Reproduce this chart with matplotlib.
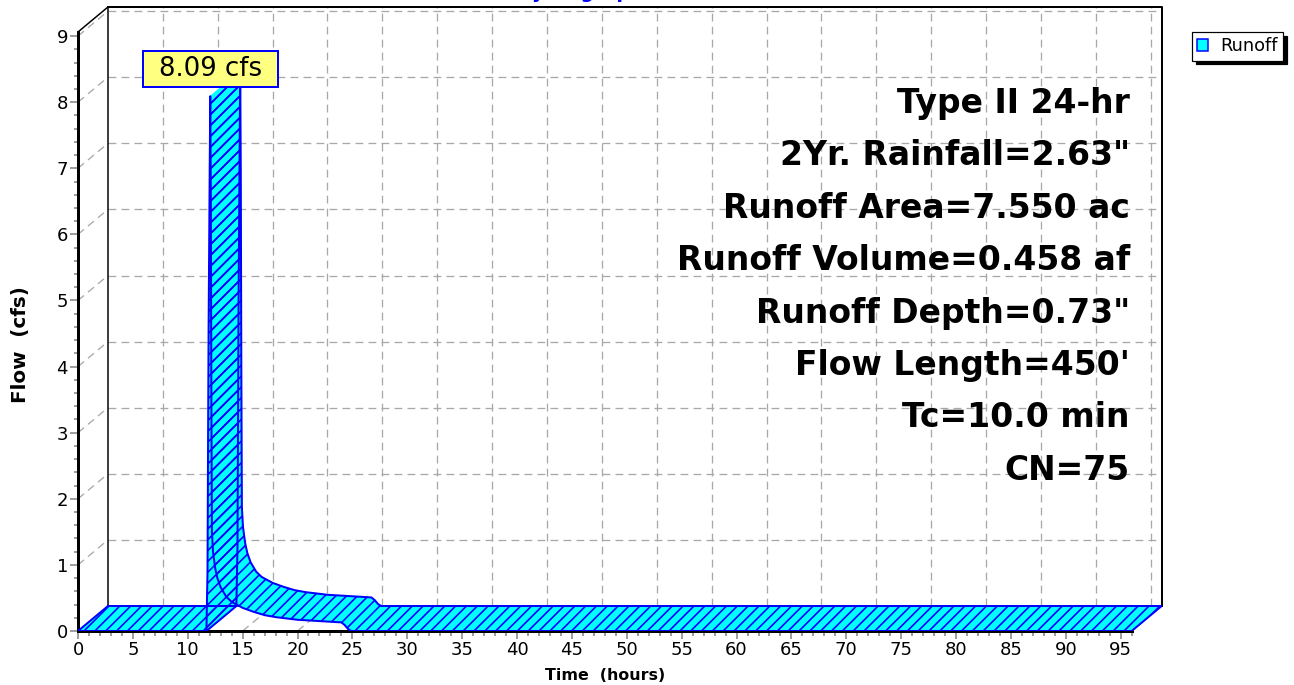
import numpy as np
import matplotlib
matplotlib.use("Agg")
import matplotlib.pyplot as plt
from matplotlib.collections import PolyCollection
from matplotlib.patches import Patch
from matplotlib.path import Path
from matplotlib.ticker import FixedLocator

DPI = 130
FIG_W, FIG_H = 1294, 685

# runoff hydrograph
TIME_HR = [0.0, 11.7, 11.8, 11.9, 12.0, 12.05, 12.1, 12.15, 12.2, 12.3, 12.5, 12.7,
           13.0, 13.5, 14.0, 15.0, 16.0, 17.0, 18.0, 20.0, 22.0, 24.0, 24.3,
           24.6, 24.9, 96.0]
FLOW_CFS = [0.0, 0.0, 0.9, 4.6, 7.0, 8.09, 6.6, 3.6, 1.5, 1.2, 0.95, 0.8,
            0.66, 0.52, 0.44, 0.35, 0.29, 0.24, 0.21, 0.17, 0.15, 0.13, 0.09,
            0.03, 0.0, 0.0]

STORM_LINES = [
    "Type II 24-hr",
    '2Yr. Rainfall=2.63"',
    "Runoff Area=7.550 ac",
    "Runoff Volume=0.458 af",
    'Runoff Depth=0.73"',
    "Flow Length=450'",
    "Tc=10.0 min",
    "CN=75",
]
X_TICKS = list(range(0, 96, 5))
Y_TICKS = list(range(0, 10))

# pseudo-3d depth of the ribbon, in data units
DEPTH_X = 2.73
DEPTH_Y = 0.378
T_END = 96.0
Y_TOP = 9.44
PX_PER_HR = 10.976

CYAN = "#00FFFF"
BLUE = "#0000FF"
GRID = "#A8A8A8"
TICK = "#808080"

plt.rcParams["font.family"] = ["DejaVu Sans"]
plt.rcParams["hatch.linewidth"] = 0.9


def px(v):
    return v * 72 / DPI


def label_box(x0, y0, width, height, mutation_size):
    padx, pady = 0.62 * mutation_size, 0.2 * mutation_size
    x0, y0 = x0 - padx, y0 - pady
    x1, y1 = x0 + width + 2 * padx, y0 + height + 2 * pady
    return Path([(x0, y0), (x1, y0), (x1, y1), (x0, y1), (x0, y0)], closed=True)


def main():
    fig = plt.figure(figsize=(FIG_W / DPI, FIG_H / DPI), dpi=DPI)
    left, bottom, top = 78, 631, 7
    right = left + (T_END + DEPTH_X) * PX_PER_HR
    ax = fig.add_axes([left / FIG_W, (FIG_H - bottom) / FIG_H,
                       (right - left) / FIG_W, (bottom - top) / FIG_H])
    ax.set_xlim(0, T_END + DEPTH_X)
    ax.set_ylim(0, Y_TOP)

    for side in ["top", "right"]:
        ax.spines[side].set_visible(False)
    ax.spines["left"].set_bounds(0, Y_TOP - DEPTH_Y)
    ax.spines["bottom"].set_bounds(0, T_END)
    for side in ["left", "bottom"]:
        ax.spines[side].set_linewidth(px(3))
        ax.spines[side].set_zorder(2)

    ax.xaxis.set_major_locator(FixedLocator(X_TICKS))
    ax.xaxis.set_minor_locator(FixedLocator(np.arange(0, T_END + 1, 1)))
    ax.yaxis.set_major_locator(FixedLocator(Y_TICKS))
    ax.yaxis.set_minor_locator(FixedLocator(np.arange(0, 9.01, 0.2)))
    ax.tick_params(which="both", direction="out", color=TICK, width=px(1.5),
                   labelsize=10, labelcolor="black")
    ax.tick_params(which="major", length=px(8), pad=px(2))
    ax.tick_params(which="minor", length=px(4.5))

    # dashed grid on the back wall, the left wall and the floor
    grid_kw = dict(color=GRID, lw=px(1.3), ls=(0, (6, 4)), zorder=1, clip_on=False)
    for y in Y_TICKS[1:]:
        ax.plot([DEPTH_X, T_END + DEPTH_X], [y + DEPTH_Y] * 2, **grid_kw)
        ax.plot([0, DEPTH_X], [y, y + DEPTH_Y], **grid_kw)
    for x in X_TICKS[1:]:
        ax.plot([x + DEPTH_X] * 2, [DEPTH_Y, Y_TOP], **grid_kw)
        ax.plot([x, x + DEPTH_X], [0, DEPTH_Y], **grid_kw)

    # back wall frame
    frame_kw = dict(color="black", zorder=1.5, clip_on=False)
    ax.plot([DEPTH_X, DEPTH_X], [DEPTH_Y, Y_TOP], lw=px(1.5), **frame_kw)
    ax.plot([DEPTH_X, T_END + DEPTH_X, T_END + DEPTH_X], [Y_TOP, Y_TOP, DEPTH_Y],
            lw=px(2), **frame_kw)
    ax.plot([0, DEPTH_X], [Y_TOP - DEPTH_Y, Y_TOP], lw=px(1.5), **frame_kw)
    ax.plot([DEPTH_X, T_END + DEPTH_X], [DEPTH_Y, DEPTH_Y], color="#505050",
            lw=px(2), zorder=1.5)

    # hydrograph ribbon
    t = np.asarray(TIME_HR)
    q = np.asarray(FLOW_CFS)
    front = np.column_stack([t, q])
    back = front + [DEPTH_X, DEPTH_Y]
    quads = [np.vstack([front[i], front[i + 1], back[i + 1], back[i]])
             for i in range(len(t) - 1)]
    ax.add_collection(PolyCollection(quads, facecolors=CYAN, edgecolors=CYAN,
                                     linewidths=px(0.6), zorder=3))
    ax.add_collection(PolyCollection(quads, facecolors="none", edgecolors=BLUE,
                                     linewidths=0, hatch="////", zorder=3.1))
    line_kw = dict(color=BLUE, lw=px(2), zorder=3.2, solid_joinstyle="round")
    ax.plot(front[:, 0], front[:, 1], **line_kw)
    ax.plot(back[:, 0], back[:, 1], **line_kw)
    first_flow = int(np.argmax(q > 0))
    for i in (0, first_flow - 1, len(t) - 1):
        ax.plot([front[i, 0], back[i, 0]], [front[i, 1], back[i, 1]], **line_kw)

    ipk = int(np.argmax(q))
    ax.annotate(f"{q[ipk]:.2f} cfs", xy=(t[ipk], q[ipk]), xytext=(0, px(14)),
                textcoords="offset points", ha="center", va="bottom", fontsize=14.4,
                bbox=dict(boxstyle=label_box, fc="#FFFF80", ec=BLUE, lw=px(2)),
                zorder=6)

    for k, line in enumerate(STORM_LINES):
        fig.text(1130 / FIG_W, 1 - (113 + 52.4 * k) / FIG_H, line, ha="right",
                 va="baseline", fontsize=18.3, fontweight="bold")

    # chart title, mostly cut off by the top edge as in the source image
    fig.text(580 / FIG_W, 1 + 1.5 / FIG_H, "Hydrograph", color=BLUE, ha="center",
             va="baseline", fontsize=10.5, fontweight="bold")

    fig.text(605 / FIG_W, 1 - 676 / FIG_H, "Time  (hours)", ha="center",
             va="center", fontsize=8.8, fontweight="bold")
    fig.text(21 / FIG_W, 1 - 345 / FIG_H, "Flow  (cfs)", rotation=90, ha="center",
             va="center", fontsize=11, fontweight="bold")

    handle = Patch(facecolor=CYAN, edgecolor=BLUE, linewidth=px(1.5))
    leg = fig.legend([handle], ["Runoff"], loc="upper left",
                     bbox_to_anchor=(1192 / FIG_W, 1 - 32 / FIG_H), frameon=True,
                     fancybox=False, shadow={"color": "black", "alpha": 1},
                     fontsize=9.8, handlelength=0.6, handleheight=0.6,
                     handletextpad=0.7, borderpad=0.3, borderaxespad=0,
                     framealpha=1, edgecolor="black")
    leg.get_frame().set_linewidth(px(1.2))

    fig.savefig("out.png", dpi=DPI)
    plt.close(fig)


if __name__ == "__main__":
    main()
